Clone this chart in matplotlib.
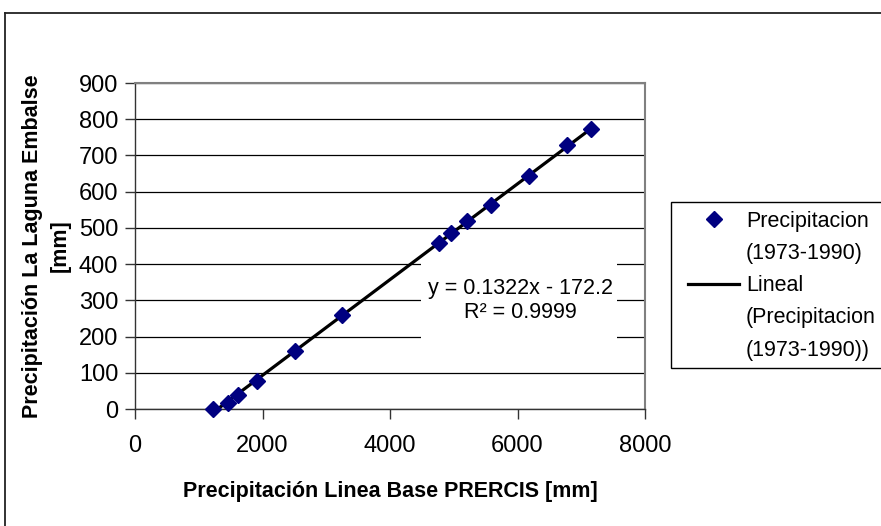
import matplotlib.pyplot as plt
import numpy as np
from matplotlib.lines import Line2D
from matplotlib.patches import Rectangle

plt.rcParams['font.family'] = ['Liberation Sans', 'DejaVu Sans']

# datos
precip_base = [1220, 1464, 1621, 1911, 2510, 3254, 4770, 4962, 5206, 5589, 6182, 6780, 7158]
precip_laguna = [0, 16, 40, 78, 161, 259, 459, 485, 520, 564, 644, 729, 772]
ecuacion = "y = 0.1322x - 172.2\nR² = 0.9999"
xticks = [0, 2000, 4000, 6000, 8000]
yticks = [0, 100, 200, 300, 400, 500, 600, 700, 800, 900]

W, H = 881, 526
fig = plt.figure(figsize=(W/100, H/100), dpi=100)
ax = fig.add_axes([135/W, 1-409/H, 510/W, 326/H])

# linea de tendencia (ajuste lineal)
m, b = np.polyfit(precip_base, precip_laguna, 1)
xl = np.array([min(precip_base), max(precip_base)])
ax.plot(xl, m*xl + b, color='black', lw=2.3, zorder=3, clip_on=False)
ax.plot(precip_base, precip_laguna, 'D', color='#000080', ms=8.5, zorder=4, clip_on=False)

ax.set_xlim(0, 8000)
ax.set_ylim(0, 900)
ax.set_xticks(xticks)
ax.set_yticks(yticks)
ax.yaxis.grid(True, color='black', lw=0.9)
ax.set_axisbelow(True)
ax.tick_params(direction='out', length=7, width=1, color='#333333', labelsize=17)
ax.tick_params(axis='x', pad=12)
ax.tick_params(axis='y', pad=5)
for s in ['top', 'right']:
    ax.spines[s].set_color('#808080')
    ax.spines[s].set_linewidth(1.5)
for s in ['left', 'bottom']:
    ax.spines[s].set_color('#333333')
    ax.spines[s].set_linewidth(1)

# caja blanca de la ecuacion
ax.add_patch(Rectangle((4490, 150), 3070, 290, facecolor='white', edgecolor='none', zorder=2))
ax.text(6040, 300, ecuacion, ha='center', va='center', fontsize=15.5, zorder=5,
        multialignment='center', linespacing=1.2)

ax.set_xlabel('Precipitación Linea Base PRERCIS [mm]', fontsize=15.5, fontweight='bold', va='top')
ax.xaxis.set_label_coords(0.5, (409-481)/326)
ax.set_ylabel('Precipitación La Laguna Embalse\n[mm]', fontsize=15.5, fontweight='bold',
              linespacing=1.45, va='bottom')
ax.yaxis.set_label_coords((71-135)/510, 0.5)

# leyenda
fig.add_artist(Rectangle((671/W, 1-368/H), 0.3, 166/H, transform=fig.transFigure,
                         facecolor='white', edgecolor='black', lw=1))
vacio = Line2D([], [], linestyle='none')
handles = [Line2D([], [], marker='D', color='#000080', linestyle='none', ms=8.5), vacio,
           Line2D([], [], color='black', lw=2.3), vacio, vacio]
labels = ['Precipitacion', '(1973-1990)', 'Lineal', '(Precipitacion', '(1973-1990))']
fig.legend(handles, labels, loc='upper left', bbox_to_anchor=(677/W, 1-200/H), frameon=False,
           fontsize=15.5, handlelength=2.4, handletextpad=0.3, labelspacing=0.52, borderpad=0)

# marco exterior
fig.add_artist(Line2D([5/W, 5/W], [0, 1-13/H], color='#222222', lw=1.3))
fig.add_artist(Line2D([5/W, 1], [1-13/H, 1-13/H], color='#222222', lw=1.3))

fig.savefig('out.png', dpi=100)
